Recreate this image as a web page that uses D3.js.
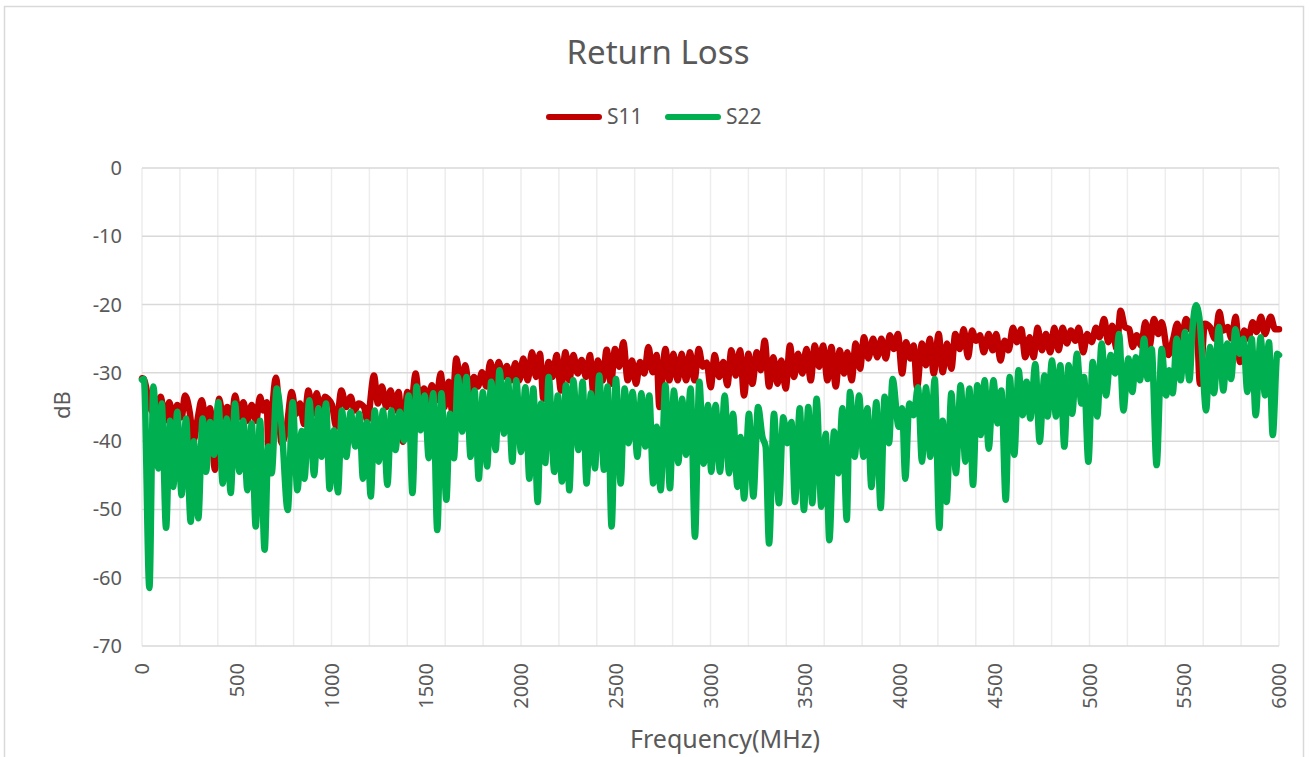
<!DOCTYPE html>
<html>
<head>
    <title>Return Loss</title>
    <script src="https://d3js.org/d3.v7.min.js"></script>
    <style>
        body { margin: 0; background: #fff; }
        text { font-family: "Noto Sans", "DejaVu Sans", sans-serif; fill: #595959; }
    </style>
</head>
<body>
    <svg width="1310" height="757"></svg>

    <script>
        // S11 / S22 readings: [frequency MHz, dB]
        var s11 = [[0,-30.8],[10,-30.9],[42,-35],[69,-36],[99,-33.5],[121,-37],[144,-34.3],[165,-37],[186,-34.7],[209,-36.5],[227,-33.3],[253,-36],[271,-40],[292,-37],[315,-34],[338,-37],[359,-35.2],[385,-44.2],[406,-33.8],[429,-36.5],[450,-35],[473,-37],[491,-33.3],[514,-36.5],[535,-34.3],[556,-37],[579,-34.7],[602,-37],[623,-33.5],[640,-35.5],[658,-34.3],[667,-40.8],[707,-30.7],[737,-40.3],[763,-38],[790,-32.8],[813,-36],[834,-34.5],[855,-37.5],[878,-32.6],[901,-36],[922,-33],[943,-36],[966,-33.5],
            [981,-33.8],[1003,-34.7],[1025,-37.9],[1052,-32.6],[1078,-35],[1101,-33.5],[1122,-35.5],[1143,-34.5],[1171,-35],[1189,-37],[1224,-30.4],[1245,-34.5],[1266,-32],[1289,-35],[1312,-32.6],[1333,-35.5],[1354,-32.8],[1377,-40.1],[1400,-32.8],[1421,-34.5],[1444,-30.1],[1465,-34.5],[1488,-32.3],[1509,-34],[1530,-31.8],[1553,-34],[1576,-30.1],[1597,-35],[1618,-31.3],[1636,-35.5],[1659,-27.9],[1682,-32],[1706,-28.9],[1729,-33],[1752,-30.6],[1773,-32],[1794,-29.9],[1817,-32],[1838,-28.4],[1861,-31.6],[1882,-28.4],[1905,-30.6],[1926,-29],[1949,-31.1],[1970,-28.6],
            [1991,-31.1],[2012,-27.9],[2035,-31.1],[2058,-27],[2079,-30.6],[2100,-27.2],[2118,-33.8],[2146,-28.4],[2167,-30.6],[2188,-27.4],[2211,-32.6],[2234,-27],[2255,-31.1],[2276,-27.4],[2299,-30.1],[2320,-28.1],[2343,-30.6],[2364,-27.4],[2382,-33],[2406,-28.2],[2431,-31.1],[2452,-26.6],[2475,-31.6],[2496,-26.5],[2519,-29.1],[2540,-25.5],[2563,-31.1],[2586,-28.2],[2607,-31.6],[2628,-28.4],[2651,-30.1],[2672,-26.2],[2695,-29.9],[2716,-27.4],[2730,-35],[2762,-26.5],[2783,-31.1],[2804,-27.2],[2827,-31.1],[2848,-27.2],[2871,-31.1],[2892,-27],[2915,-31.1],[2938,-26.5],[2959,-29.1],
            [2980,-28.5],[3001,-32.1],[3022,-27.4],[3045,-30.6],[3068,-28.4],[3089,-31.8],[3110,-26.7],[3133,-30.4],[3156,-26.7],[3177,-33.3],[3200,-27.2],[3221,-31.6],[3244,-27],[3265,-29.6],[3286,-25.3],[3309,-32],[3332,-27.7],[3353,-31.6],[3374,-28.2],[3397,-32.3],[3419,-26],[3441,-30.6],[3462,-27.2],[3485,-30.1],[3506,-26.5],[3529,-31.1],[3550,-26],[3573,-29.1],[3594,-26],[3617,-31.1],[3638,-26.2],[3661,-32],[3682,-26.7],[3705,-30.1],[3722,-27],[3745,-31.1],[3766,-25.7],[3789,-29.4],[3810,-24.8],[3833,-27.9],[3858,-25],[3880,-27.7],[3902,-25],[3925,-27.9],[3946,-24.5],
            [3968,-26.5],[3989,-24.3],[4011,-30.1],[4032,-25.5],[4055,-27.9],[4072,-26],[4090,-32.1],[4116,-25.7],[4137,-28.9],[4157,-25],[4178,-30.1],[4204,-24.3],[4225,-29.9],[4248,-25.7],[4271,-29.4],[4292,-24.3],[4315,-26.5],[4336,-23.6],[4359,-27.7],[4380,-23.8],[4401,-25.3],[4422,-24.5],[4442,-27],[4468,-24.3],[4489,-26.7],[4508,-24.3],[4530,-28.2],[4552,-25.3],[4573,-26.7],[4596,-23.4],[4617,-25.5],[4640,-23.6],[4661,-27.7],[4684,-24.8],[4705,-27.7],[4726,-23.4],[4749,-26.7],[4770,-24.3],[4793,-27],[4814,-23.4],[4837,-26.7],[4858,-23.4],[4881,-25.7],[4902,-23.8],[4925,-25.3],[4943,-23.4],
            [4967,-27],[4988,-24.3],[5011,-25.5],[5034,-23.4],[5052,-24.8],[5077,-22.1],[5099,-25.5],[5120,-23.1],[5143,-26.5],[5164,-20.9],[5187,-23.3],[5210,-23.6],[5228,-26.2],[5249,-24.5],[5272,-26],[5295,-22.6],[5316,-26.2],[5340,-22.1],[5363,-24.3],[5381,-22.6],[5416,-27.4],[5442,-25],[5463,-22.8],[5486,-25.3],[5509,-22.1],[5539,-23.8],[5562,-20.9],[5583,-31.6],[5609,-22.8],[5636,-23.3],[5662,-25],[5685,-21.1],[5706,-23.8],[5729,-23.3],[5750,-25],[5771,-21.8],[5794,-28.4],[5817,-23.8],[5838,-25],[5861,-22.6],[5882,-24],[5905,-21.8],[5926,-24.3],[5956,-21.8],[5979,-23.6],[6000,-23.6]];

        var s22 = [[0,-31],[10,-30.9],[39,-61.5],[60,-32],[86,-44],[104,-34.5],[127,-52.7],[148,-37],[165,-46.7],[186,-35.7],[209,-47.9],[232,-36.7],[257,-51.8],[274,-40],[297,-51.3],[320,-36.7],[338,-44.5],[359,-37.2],[380,-42],[403,-34.3],[426,-46.2],[447,-36.7],[468,-47.6],[491,-34.5],[514,-44.5],[535,-37],[556,-47.2],[579,-37.4],[600,-52.5],[623,-37],[647,-55.9],[667,-40.8],[684,-44.7],[711,-32.3],[737,-37.9],[769,-50.1],[795,-34.3],[820,-47.2],[843,-38.5],[857,-45.5],[883,-34],[908,-45],[931,-35.2],[948,-42.3],[971,-34.5],
            [990,-47],[1013,-38.4],[1034,-47.5],[1055,-35.5],[1078,-42.3],[1101,-35.7],[1126,-40.8],[1147,-36],[1166,-45.5],[1187,-37.2],[1207,-48.1],[1228,-35.5],[1249,-43],[1272,-35.5],[1295,-46.4],[1316,-35.5],[1337,-41.3],[1360,-35.7],[1383,-39.9],[1407,-33.3],[1427,-47.6],[1449,-32],[1470,-38.4],[1492,-33.3],[1513,-42.5],[1537,-33],[1558,-53],[1580,-33],[1606,-48.6],[1625,-36],[1646,-42.5],[1667,-30.6],[1690,-38.6],[1712,-30.6],[1734,-42.3],[1755,-32.6],[1777,-45.5],[1799,-32.8],[1821,-43.7],[1843,-31.3],[1866,-41.3],[1887,-29.6],[1910,-38.9],[1931,-31.1],[1954,-43],[1975,-31.1],
            [2000,-41.6],[2023,-32.1],[2044,-45.5],[2065,-32.3],[2088,-48.9],[2106,-34.5],[2128,-43.2],[2146,-30.6],[2176,-44.5],[2194,-33.3],[2216,-45.9],[2237,-31.8],[2255,-47.2],[2276,-31.1],[2303,-41.3],[2325,-31.3],[2346,-46.2],[2369,-33],[2390,-44],[2413,-30.4],[2438,-44.2],[2457,-32],[2478,-52.5],[2501,-30.9],[2526,-46.2],[2547,-32.3],[2568,-40.3],[2589,-32.8],[2614,-42.3],[2635,-33],[2656,-40.8],[2677,-33.3],[2698,-46.2],[2716,-37.9],[2737,-47.2],[2762,-31.8],[2786,-46.9],[2807,-32.6],[2830,-43.2],[2850,-33.8],[2871,-42],[2895,-32.3],[2918,-54],[2941,-31.3],[2964,-43.3],
            [2987,-34.7],[3004,-44.5],[3027,-34.7],[3050,-44.5],[3075,-33.3],[3098,-44.7],[3119,-36],[3142,-46.7],[3159,-39.4],[3177,-48.4],[3203,-36],[3226,-48.1],[3251,-35],[3274,-39.4],[3291,-40.8],[3309,-55],[3335,-36],[3361,-49.1],[3384,-36.5],[3405,-40.3],[3427,-37.2],[3446,-48.9],[3471,-35.2],[3493,-50.1],[3516,-35],[3537,-49.1],[3560,-33.8],[3585,-49.6],[3608,-38.9],[3627,-54.5],[3652,-38.6],[3675,-44.7],[3696,-35.2],[3719,-51.5],[3736,-32.8],[3761,-42.3],[3784,-33.3],[3807,-42.3],[3828,-35.2],[3849,-46.7],[3875,-34.3],[3898,-49.8],[3919,-33.5],[3942,-40.3],[3961,-30.9],
            [3993,-37.9],[4011,-35.2],[4028,-45.5],[4049,-34.5],[4072,-36.2],[4095,-32.1],[4116,-43],[4137,-32.1],[4160,-42.3],[4183,-30.9],[4208,-52.7],[4225,-37],[4246,-48.9],[4271,-33],[4295,-44.7],[4320,-31.8],[4345,-43],[4366,-32.3],[4385,-46.4],[4408,-31.8],[4426,-39.1],[4447,-31.1],[4468,-41.1],[4493,-31.1],[4515,-37.4],[4535,-32.6],[4558,-48.6],[4579,-30.6],[4603,-42],[4626,-29.6],[4647,-36.2],[4668,-31.3],[4688,-36.7],[4714,-28.7],[4737,-40.1],[4762,-30.4],[4779,-36.4],[4802,-28.2],[4823,-36.4],[4846,-28.9],[4867,-40.8],[4890,-28.9],[4908,-36],[4934,-27.2],[4957,-34.5],
            [4971,-30.6],[4994,-43],[5017,-28.4],[5041,-36.4],[5064,-25.7],[5087,-33.3],[5112,-27.4],[5135,-30.1],[5156,-24.3],[5179,-35.5],[5205,-27.9],[5226,-32.8],[5245,-27.7],[5266,-31.1],[5288,-25],[5307,-30.9],[5328,-26.5],[5354,-43.5],[5381,-26.5],[5404,-33.3],[5421,-29.6],[5439,-33],[5460,-25],[5481,-31.1],[5504,-24],[5527,-31.1],[5545,-23],[5562,-20.1],[5580,-22],[5592,-26.2],[5615,-35.5],[5636,-26.2],[5657,-33],[5683,-23.3],[5706,-32.6],[5727,-25.7],[5747,-30.9],[5770,-23.6],[5791,-27.2],[5812,-25],[5833,-32.8],[5856,-25],[5877,-36.2],[5903,-24.8],[5926,-33.3],[5947,-25.5],[5967,-39.1],[5991,-27.2],[6000,-27.4]];

        var seriesNames = ["S11", "S22"];
        var seriesColors = ["#C00000", "#00B050"];
        var yTicks = [0, -10, -20, -30, -40, -50, -60, -70];
        var xTicks = d3.range(0, 6001, 500);
        var xGrid = d3.range(0, 6001, 200);

        var margin = {top: 168, left: 142},
            width = 1279 - 142,
            height = 646 - 168;

        var svg = d3.select("svg");

        // chart border
        svg.append("rect")
            .attr("x", 4.5).attr("y", 6.5)
            .attr("width", 1299).attr("height", 800)
            .attr("fill", "#fff")
            .attr("stroke", "#d9d9d9")
            .attr("stroke-width", 1.5);

        var x = d3.scaleLinear().domain([0, 6000]).range([0, width]);
        var y = d3.scaleLinear().domain([-70, 0]).range([height, 0]);

        var g = svg.append("g")
            .attr("transform", "translate(" + margin.left + "," + margin.top + ")");

        // vertical gridlines
        g.selectAll(".vgrid")
            .data(xGrid)
            .enter().append("line")
            .attr("class", "vgrid")
            .attr("x1", function(d) { return x(d); })
            .attr("x2", function(d) { return x(d); })
            .attr("y1", 0).attr("y2", height)
            .attr("stroke", "#ededed")
            .attr("stroke-width", 1.5);

        // horizontal gridlines
        g.selectAll(".hgrid")
            .data(yTicks)
            .enter().append("line")
            .attr("class", "hgrid")
            .attr("x1", 0).attr("x2", width)
            .attr("y1", function(d) { return y(d); })
            .attr("y2", function(d) { return y(d); })
            .attr("stroke", "#d9d9d9")
            .attr("stroke-width", 1.5);

        // y tick labels
        g.selectAll(".ylab")
            .data(yTicks)
            .enter().append("text")
            .attr("class", "ylab")
            .attr("x", -20)
            .attr("y", function(d) { return y(d); })
            .attr("dy", "0.35em")
            .style("text-anchor", "end")
            .style("font-size", "20px")
            .text(function(d) { return d; });

        // x tick labels (rotated)
        g.selectAll(".xlab")
            .data(xTicks)
            .enter().append("text")
            .attr("class", "xlab")
            .attr("transform", function(d) { return "translate(" + x(d) + "," + (height + 17) + ") rotate(-90)"; })
            .attr("dy", "0.35em")
            .style("text-anchor", "end")
            .style("font-size", "20px")
            .text(function(d) { return d; });

        var line = d3.line()
            .x(function(d) { return x(d[0]); })
            .y(function(d) { return y(d[1]); })
            .curve(d3.curveMonotoneX);

        [s11, s22].forEach(function(data, i) {
            g.append("path")
                .datum(data)
                .attr("fill", "none")
                .attr("stroke", seriesColors[i])
                .attr("stroke-width", 6.5)
                .attr("stroke-linejoin", "round")
                .attr("stroke-linecap", "round")
                .attr("d", line);
        });

        // title
        svg.append("text")
            .attr("x", 658).attr("y", 64)
            .style("text-anchor", "middle")
            .style("font-size", "33px")
            .text("Return Loss");

        // legend
        var legendX = [549, 668];
        seriesNames.forEach(function(name, i) {
            svg.append("line")
                .attr("x1", legendX[i]).attr("x2", legendX[i] + 50)
                .attr("y1", 117).attr("y2", 117)
                .attr("stroke", seriesColors[i])
                .attr("stroke-width", 6)
                .attr("stroke-linecap", "round");
            svg.append("text")
                .attr("x", legendX[i] + 58).attr("y", 117)
                .attr("dy", "0.35em")
                .style("font-size", "21px")
                .text(name);
        });

        // axis titles
        svg.append("text")
            .attr("transform", "translate(62,405) rotate(-90)")
            .attr("dy", "0.35em")
            .style("text-anchor", "middle")
            .style("font-size", "22px")
            .text("dB");

        svg.append("text")
            .attr("x", 725).attr("y", 748)
            .style("text-anchor", "middle")
            .style("font-size", "25px")
            .text("Frequency(MHz)");
    </script>
</body>
</html>
